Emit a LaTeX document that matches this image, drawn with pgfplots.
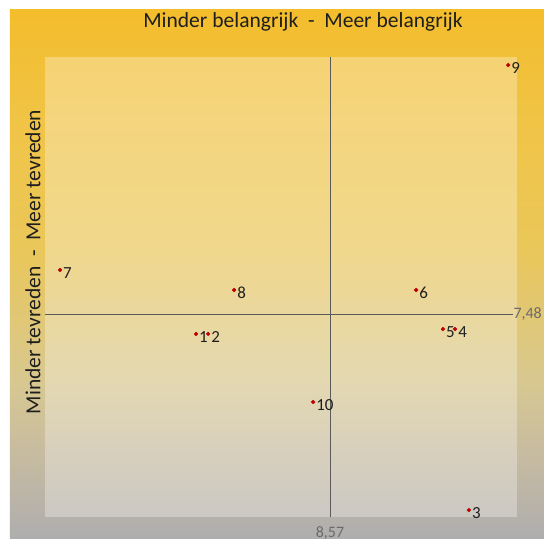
\documentclass[border=0pt]{standalone}
\usepackage{pgfplots}
\pgfplotsset{compat=1.18}
\usepackage{fontspec}
\setmainfont{Carlito}
\definecolor{bgtop}{HTML}{F3BD2C}
\definecolor{bgA}{HTML}{F1C446}
\definecolor{bgB}{HTML}{EAC75A}
\definecolor{bgC}{HTML}{D8C890}
\definecolor{bgD}{HTML}{C8BCA0}
\definecolor{bgE}{HTML}{BAB4A8}
\definecolor{bgbot}{HTML}{AEAEAE}
\definecolor{dotred}{HTML}{C00000}
\definecolor{linecol}{HTML}{5A5A5A}
\definecolor{txt}{HTML}{1E1E1E}
\definecolor{ticktxt}{HTML}{6A6A6A}
\pgfdeclareverticalshading{bgshade}{100bp}{color(0bp)=(bgbot); color(25bp)=(bgbot); color(28.7bp)=(bgE); color(33.4bp)=(bgD); color(40bp)=(bgC); color(52.3bp)=(bgB); color(64.5bp)=(bgA); color(75bp)=(bgtop); color(100bp)=(bgtop)}
\begin{document}
\begin{tikzpicture}
\useasboundingbox (-45bp,-22bp) rectangle (499bp,517bp);
\fill[white] (-45bp,-22bp) rectangle (499bp,517bp);
\shade[shading=bgshade] (-35bp,-22bp) rectangle (499bp,507bp);
\begin{axis}[
  scale only axis, width=472bp, height=460bp,
  xmin=7.604, xmax=9.204, ymin=6.597, ymax=8.597,
  axis line style={draw=none}, ticks=none, clip=false,
  axis background/.style={fill=white, fill opacity=0.3},
]
\draw[linecol, line width=0.8bp] (axis cs:8.57,6.597) -- (axis cs:8.57,8.597);
\draw[linecol, line width=0.8bp] (axis cs:7.604,7.48) -- (axis cs:9.19,7.48);
\node[anchor=west, inner sep=0.5bp, text=ticktxt, font=\fontsize{16}{18}\selectfont] at (axis cs:9.19,7.48) {7,48};
\node[anchor=center, text=ticktxt, font=\fontsize{16}{18}\selectfont, yshift=-16bp] at (axis cs:8.57,6.597) {8,57};
\addplot[only marks, mark=*, mark size=1.9bp, dotred,
  nodes near coords, point meta=explicit symbolic,
  nodes near coords style={anchor=west, inner sep=1bp, xshift=2bp, yshift=-3bp, text=txt, font=\fontsize{17}{19}\selectfont}]
  table[meta=label] {
x y label
8.116 7.393 1
8.157 7.393 2
9.041 6.627 3
8.994 7.414 4
8.953 7.414 5
8.862 7.584 6
7.655 7.671 7
8.245 7.584 8
9.174 8.562 9
8.513 7.097 10
};
\end{axis}
\node[text=txt, font=\fontsize{21.6}{24}\selectfont] at (258bp,495bp) {Minder belangrijk \ - \ Meer belangrijk};
\node[text=txt, font=\fontsize{21.6}{24}\selectfont, rotate=90] at (-12bp,255bp) {Minder tevreden \ - \ Meer tevreden};
\end{tikzpicture}
\end{document}
